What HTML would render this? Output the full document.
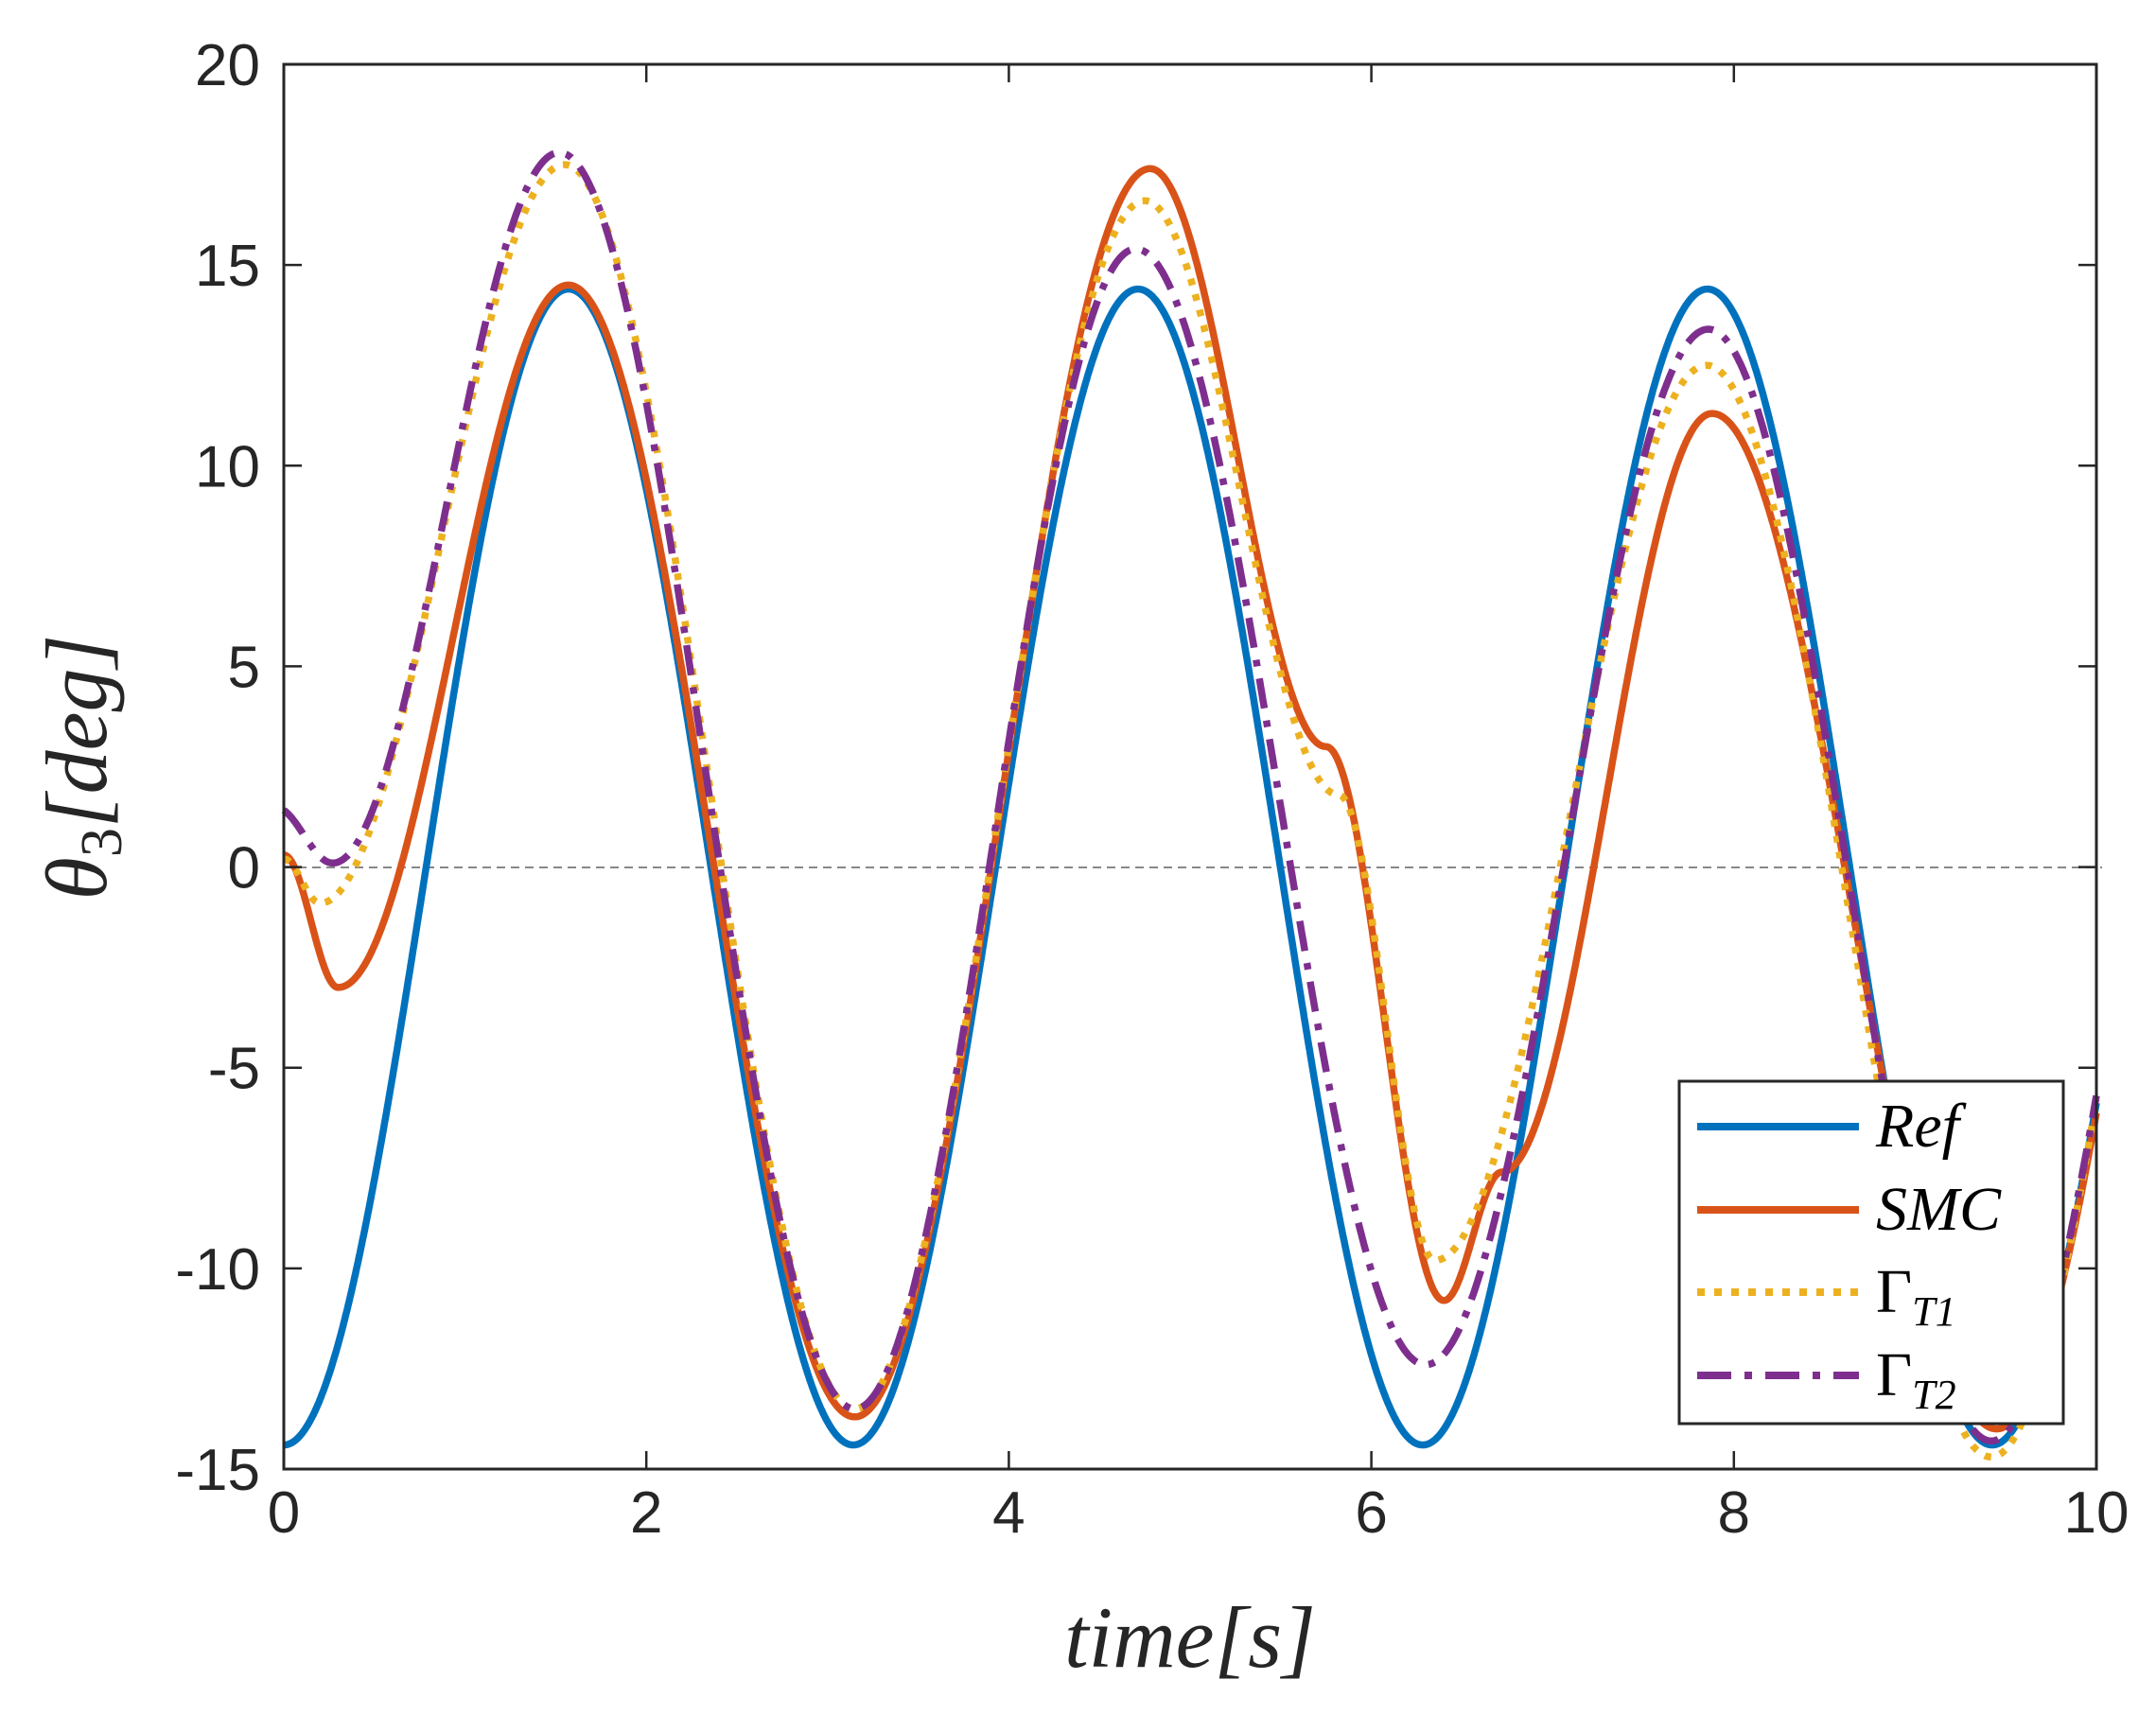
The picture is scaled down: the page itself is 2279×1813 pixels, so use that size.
<!DOCTYPE html>
<html><head><meta charset="utf-8"><style>
html,body{margin:0;padding:0;background:#fff;}
svg{display:block}
</style></head><body>
<svg id="s" width="2279" height="1813" viewBox="0 0 2279 1813" xmlns="http://www.w3.org/2000/svg">
<rect width="2279" height="1813" fill="#fff"/>
<line x1="300" y1="917" x2="2222" y2="917" stroke="#888" stroke-width="2" stroke-dasharray="9,6"/>
<g id="curves" fill="none" stroke-linejoin="round"></g>
<g id="axes" stroke="#262626" stroke-width="3" fill="none">
<rect x="300" y="68" width="1916" height="1485"/>
</g>
<g id="ticks" stroke="#262626" stroke-width="2.5"></g>
<g id="labels" font-family="Liberation Sans, sans-serif" font-size="62" fill="#262626"></g>
<text x="1258" y="1762" font-family="Liberation Serif, serif" font-style="italic" font-size="92" text-anchor="middle" fill="#262626">time[s]</text>
<text transform="translate(112,811) rotate(-90)" font-family="Liberation Serif, serif" font-style="italic" font-size="92" text-anchor="middle" fill="#262626">θ<tspan font-size="62" dy="16" font-style="normal">3</tspan><tspan dy="-16">[deg]</tspan></text>
<g id="legend">
<rect x="1775" y="1143" width="406" height="362" fill="#fff" stroke="#262626" stroke-width="3"/>
<line x1="1794" y1="1191" x2="1965" y2="1191" stroke="#0072BD" stroke-width="8"/>
<line x1="1794" y1="1279" x2="1965" y2="1279" stroke="#D95319" stroke-width="8"/>
<line x1="1794" y1="1366" x2="1965" y2="1366" stroke="#EDB120" stroke-width="8" stroke-dasharray="8,10"/>
<line x1="1794" y1="1454" x2="1965" y2="1454" stroke="#7E2F8E" stroke-width="8" stroke-dasharray="36,14,8,14"/>
<g font-family="Liberation Serif, serif" font-style="italic" font-size="66" fill="#000">
<text x="1983" y="1212">Ref</text>
<text x="1983" y="1300">SMC</text>
<text x="1983" y="1387"><tspan font-style="normal">Γ</tspan><tspan font-size="44" dy="14">T1</tspan></text>
<text x="1983" y="1475"><tspan font-style="normal">Γ</tspan><tspan font-size="44" dy="14">T2</tspan></text>
</g>
</g>
</svg>
<script>
var L=300,R=2216,T=68,B=1553;
function X(t){return L+(R-L)*t/10;}
function Y(v){return T+(20-v)*(B-T)/35;}
var NS="http://www.w3.org/2000/svg";
function mk(tag,attrs,parent){var e=document.createElementNS(NS,tag);for(var k in attrs)e.setAttribute(k,attrs[k]);parent.appendChild(e);return e;}
function fromPts(P){return function(t){
 for(var i=0;i<P.length-1;i++){if(t<=P[i+1][0]){var s=(t-P[i][0])/(P[i+1][0]-P[i][0]);return P[i][1]+(P[i+1][1]-P[i][1])*(1-Math.cos(Math.PI*s))/2;}}
 return P[P.length-1][1];};}
function path(f){var d="";for(var i=0;i<=2000;i++){var t=i*10/2000;d+=(i?"L":"M")+X(t).toFixed(1)+" "+Y(f(t)).toFixed(1);}return d;}
var ref=function(t){return -14.4*Math.cos(2*t);};
var smc=fromPts([[0,0.3],[0.3,-3.0],[1.57,14.5],[3.15,-13.7],[4.78,17.4],[5.75,3.0],[6.4,-10.8],[6.72,-7.6],[7.88,11.3],[9.45,-14],[10.9,11]]);
var t1=fromPts([[0,0.2],[0.2,-0.9],[1.55,17.5],[3.15,-13.5],[4.75,16.6],[5.82,1.8],[6.35,-9.8],[7.85,12.5],[9.42,-14.7],[10.9,12]]);
var t2=fromPts([[-0.05,1.5],[0.27,0.1],[1.52,17.8],[3.15,-13.5],[4.7,15.4],[6.3,-12.4],[7.86,13.4],[9.42,-14.3],[10.9,11.5]]);
var g=document.getElementById("curves");
mk("path",{d:path(ref),stroke:"#0072BD","stroke-width":7.5},g);
mk("path",{d:path(smc),stroke:"#D95319","stroke-width":7.5},g);
mk("path",{d:path(t1),stroke:"#EDB120","stroke-width":7.5,"stroke-dasharray":"7,10"},g);
mk("path",{d:path(t2),stroke:"#7E2F8E","stroke-width":7.5,"stroke-dasharray":"32,13,7,13"},g);
var tk=document.getElementById("ticks"),lb=document.getElementById("labels");
for(var t=0;t<=10;t+=2){var x=X(t);
 mk("line",{x1:x,y1:B,x2:x,y2:B-19},tk);mk("line",{x1:x,y1:T,x2:x,y2:T+19},tk);
 var e=mk("text",{x:x,y:1620,"text-anchor":"middle"},lb);e.textContent=String(t);}
for(var v=-15;v<=20;v+=5){var y=Y(v);
 mk("line",{x1:L,y1:y,x2:L+19,y2:y},tk);mk("line",{x1:R,y1:y,x2:R-19,y2:y},tk);
 var e=mk("text",{x:275,y:y+22,"text-anchor":"end"},lb);e.textContent=String(v);}
</script>
</body></html>
